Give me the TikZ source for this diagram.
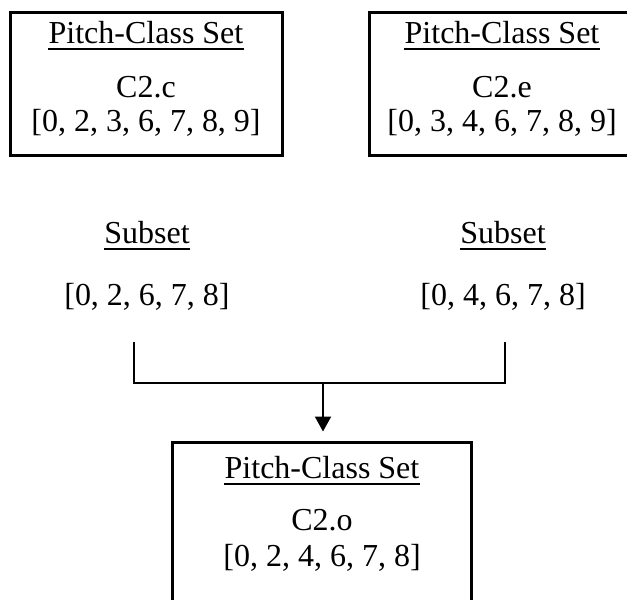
\documentclass[tikz,border=0pt]{standalone}
\usepackage{fontspec}
\setmainfont{Liberation Serif}
\usetikzlibrary{arrows.meta}
\begin{document}
\begin{tikzpicture}[x=0.5pt,y=-0.5pt,
  txt/.style={inner sep=0pt, anchor=base, font=\fontsize{16}{19}\selectfont},
  boxnode/.style={draw, line width=1.5pt, inner sep=0pt},
  uline/.style={line width=1pt},
  conn/.style={line width=1pt}]
\useasboundingbox (0,0) rectangle (627,600);
% boxes
\node[boxnode, minimum width=136pt, minimum height=71.5pt] (b1) at (146,84) {};
\node[boxnode, minimum width=135.5pt, minimum height=71.5pt] (b2) at (504.5,84) {};
\node[boxnode, minimum width=149.5pt, minimum height=84pt] (b3) at (322,526) {};
% box 1 texts
\node[txt] (t1) at (146,43) {Pitch-Class Set};
\node[txt] (n1) at (146,97) {C2.c};
\node[txt] (s1) at (146,131) {[0, 2, 3, 6, 7, 8, 9]};
% box 2 texts
\node[txt] (t2) at (502,43) {Pitch-Class Set};
\node[txt] (n2) at (502,97) {C2.e};
\node[txt] (s2) at (502,131) {[0, 3, 4, 6, 7, 8, 9]};
% subsets
\node[txt] (u1) at (147,243) {Subset};
\node[txt] (l1) at (147,305) {[0, 2, 6, 7, 8]};
\node[txt] (u2) at (503,243) {Subset};
\node[txt] (l2) at (503,305) {[0, 4, 6, 7, 8]};
% box 3 texts
\node[txt] (t3) at (322,478) {Pitch-Class Set};
\node[txt] (n3) at (322,530) {C2.o};
\node[txt] (s3) at (322,566) {[0, 2, 4, 6, 7, 8]};
% underlines
\foreach \n in {t1,t2,t3,u1,u2}{
  \draw[uline] ([yshift=-3pt]\n.base west) -- ([yshift=-3pt]\n.base east);
}
% connectors
\coordinate (jl) at (134,342);
\coordinate (jr) at (505,342);
\coordinate (hb) at (323,383);
\draw[conn] (jl) -- (jl |- hb) -- (jr |- hb) -- (jr);
\draw[conn, -{Triangle[length=7.5pt,width=8pt]}] (hb) -- ([yshift=4.5pt]b3.north -| hb);
\end{tikzpicture}
\end{document}
